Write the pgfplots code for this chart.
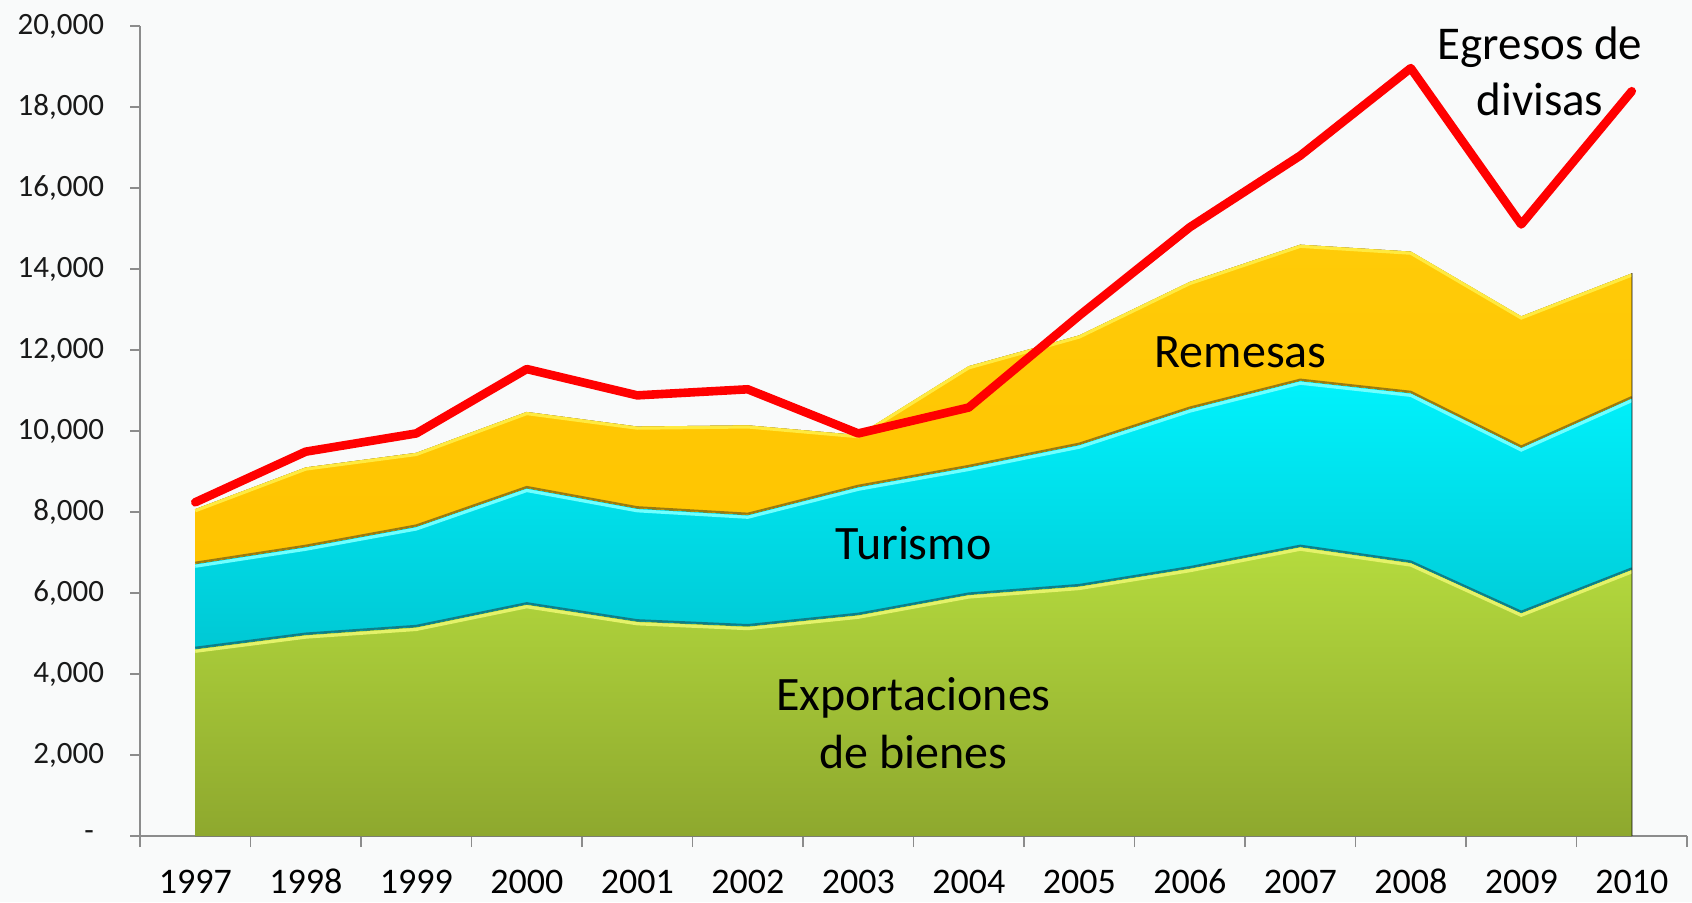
\documentclass[border=0pt]{standalone}
\usepackage{fontspec}
\setmainfont{Carlito}
\usepackage{pgfplots}
\pgfplotsset{compat=1.18}
\usepackage{pgfplotstable}
\usepgfplotslibrary{fillbetween}
\definecolor{bg}{HTML}{F9FAFA}
\definecolor{grnT}{HTML}{B5DB3E}
\definecolor{grnB}{HTML}{8EA82E}
\definecolor{grnL}{HTML}{E4F26A}
\definecolor{cyT}{HTML}{00F2FC}
\definecolor{cyB}{HTML}{00C8D4}
\definecolor{cyL}{HTML}{70FFFF}
\definecolor{cyD}{HTML}{0E7E88}
\definecolor{orT}{HTML}{FFCB08}
\definecolor{orB}{HTML}{FFC400}
\definecolor{orL}{HTML}{FFEA40}
\definecolor{orD}{HTML}{9A7A10}
\definecolor{axgray}{HTML}{8C8C8C}

% cumulative tops of the stacked areas, and the red line
\pgfplotstableread{
x exp tur rem egr
0 4620 6720 8070 8240
1 4970 7140 9100 9490
2 5160 7640 9460 9940
3 5720 8590 10470 11530
4 5300 8090 10110 10880
5 5180 7930 10140 11030
6 5460 8620 9900 9940
7 5960 9110 11600 10580
8 6170 9660 12360 12850
9 6610 10550 13680 15030
10 7140 11240 14600 16800
11 6750 10940 14430 18960
12 5510 9590 12830 15100
13 6580 10810 13890 18390
}\data

\begin{document}
\begin{tikzpicture}
\begin{axis}[
  set layers,
  at={(0,0)}, anchor=south west,
  scale only axis, width=773.5pt, height=405pt,
  xmin=-0.5, xmax=13.5, ymin=0, ymax=20000,
  clip=false,
  axis lines=left,
  axis line style={-, axgray, line width=0.8pt},
  tick align=outside,
  xtick={0,...,13},
  xticklabels={1997,1998,1999,2000,2001,2002,2003,2004,2005,2006,2007,2008,2009,2010},
  major x tick style={draw=none},
  minor xtick={-0.5,0.5,...,13.5},
  minor x tick style={axgray, line width=0.8pt},
  minor tick length=5.5pt,
  major tick length=5pt,
  scaled y ticks=false,
  ytick={0,2000,...,20000},
  yticklabels={{-\kern5pt},{2,000},{4,000},{6,000},{8,000},{10,000},{12,000},{14,000},{16,000},{18,000},{20,000}},
  y tick style={axgray, line width=0.8pt},
  yticklabel style={font=\fontsize{15.5}{18}\selectfont, text=black!90, xshift=-9.5pt},
  xticklabel style={font=\fontsize{18}{20}\selectfont, text=black, inner sep=0pt, text height=13pt, text depth=3pt, anchor=north, yshift=-10.4pt},
]
\begin{pgfonlayer}{axis background}
\fill[bg] ([xshift=-70pt,yshift=-33pt]rel axis cs:0,0) rectangle ([xshift=2.5pt,yshift=13pt]rel axis cs:1,1);
\end{pgfonlayer}
\addplot[draw=none, name path=zero] coordinates {(0,0) (13,0)};
\addplot[draw=none, name path=exp] table[x=x,y=exp]{\data};
\addplot[draw=none, name path=tur] table[x=x,y=tur]{\data};
\addplot[draw=none, name path=rem] table[x=x,y=rem]{\data};
\addplot[top color=grnT, bottom color=grnB, draw=none] fill between[of=exp and zero];
\addplot[top color=cyT, bottom color=cyB, draw=none] fill between[of=tur and exp];
\addplot[top color=orT, bottom color=orB, draw=none] fill between[of=rem and tur];
% bevel edges
\addplot[orL, line width=1.6pt, yshift=-0.8pt] table[x=x,y=rem]{\data};
\addplot[orD, line width=1.0pt, yshift=0.6pt] table[x=x,y=tur]{\data};
\addplot[cyL, line width=1.6pt, yshift=-1.2pt] table[x=x,y=tur]{\data};
\addplot[cyD, line width=1.0pt, yshift=0.6pt] table[x=x,y=exp]{\data};
\addplot[grnL, line width=1.6pt, yshift=-1.2pt] table[x=x,y=exp]{\data};
\addplot[black, opacity=0.35, line width=1pt] coordinates {(13,0) (13,13890)};
% red line
\addplot[red, line width=4.3pt, line join=round, line cap=round] table[x=x,y=egr]{\data};
% labels
\node[align=center, font=\fontsize{23.5}{28}\selectfont] at (axis cs:12.17,18890) {Egresos de\\divisas};
\node[font=\fontsize{24}{28}\selectfont] at (axis cs:9.46,11950) {Remesas};
\node[font=\fontsize{24}{28}\selectfont] at (axis cs:6.5,7230) {Turismo};
\node[align=center, font=\fontsize{24}{29}\selectfont] at (axis cs:6.5,2790) {Exportaciones\\de bienes};
\end{axis}
\pgfresetboundingbox
\path[use as bounding box] (-70pt,-33pt) rectangle (776pt,418pt);
\end{tikzpicture}
\end{document}
